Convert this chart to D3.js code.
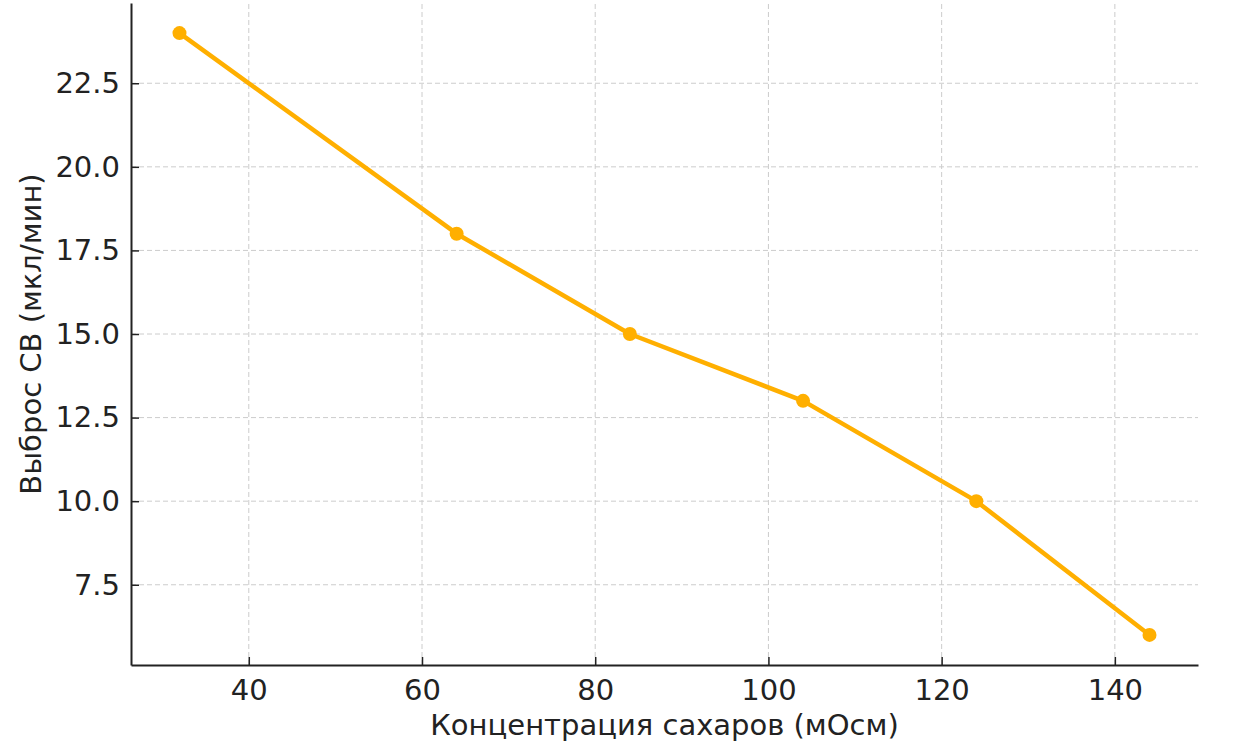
<!DOCTYPE html>
<html>
<head>
<meta charset="utf-8">
<script src="https://cdn.jsdelivr.net/npm/d3@7"></script>
<style>
  body { margin: 0; background: #fff; }
  svg text { font-family: "DejaVu Sans", sans-serif; fill: #222; }
</style>
</head>
<body>
<svg id="grafico"></svg>
<script>
// dados
const concentracao = [32, 64, 84, 104, 124, 144];
const vazao = [24, 18, 15, 13, 10, 6];
const ticksX = [40, 60, 80, 100, 120, 140];
const ticksY = [7.5, 10.0, 12.5, 15.0, 17.5, 20.0, 22.5];

const width = 1254, height = 742;
const margem = { left: 131, right: 56, top: 3, bottom: 77 };

const svg = d3.select("#grafico")
  .attr("width", width)
  .attr("height", height);

// margens de 5% como no matplotlib
const dx = (d3.max(concentracao) - d3.min(concentracao)) * 0.05;
const dy = (d3.max(vazao) - d3.min(vazao)) * 0.05;

const x = d3.scaleLinear()
  .domain([d3.min(concentracao) - dx, d3.max(concentracao) + dx])
  .range([margem.left, width - margem.right]);
const y = d3.scaleLinear()
  .domain([d3.min(vazao) - dy, d3.max(vazao) + dy])
  .range([height - margem.bottom, margem.top]);

// grade tracejada
const grade = svg.append("g");
grade.selectAll("line.gx").data(ticksX).enter().append("line")
  .attr("x1", d => x(d)).attr("x2", d => x(d))
  .attr("y1", y.range()[0]).attr("y2", y.range()[1])
  .attr("stroke", "#cccccc").attr("stroke-width", 1).attr("stroke-dasharray", "5,3");
grade.selectAll("line.gy").data(ticksY).enter().append("line")
  .attr("y1", d => y(d)).attr("y2", d => y(d))
  .attr("x1", x.range()[0]).attr("x2", x.range()[1])
  .attr("stroke", "#cccccc").attr("stroke-width", 1).attr("stroke-dasharray", "5,3");

// eixos com ticks para dentro
const eixoX = svg.append("g")
  .attr("transform", "translate(0," + y.range()[0] + ")")
  .call(d3.axisBottom(x).tickValues(ticksX).tickSizeInner(-8).tickSizeOuter(0).tickPadding(14).tickFormat(d3.format("d")));
const eixoY = svg.append("g")
  .attr("transform", "translate(" + x.range()[0] + ",0)")
  .call(d3.axisLeft(y).tickValues(ticksY).tickSizeInner(-8).tickSizeOuter(0).tickPadding(11).tickFormat(d3.format(".1f")));

[eixoX, eixoY].forEach(function(e){
  e.select(".domain").attr("stroke", "#222").attr("stroke-width", 2);
  e.selectAll(".tick line").attr("stroke", "#222").attr("stroke-width", 1.5);
  e.selectAll(".tick text").style("font-size", "29px").attr("fill", "#222");
});

// linha e marcadores
const pontos = concentracao.map((c, i) => [c, vazao[i]]);
svg.append("path")
  .datum(pontos)
  .attr("fill", "none")
  .attr("stroke", "#FFAF00")
  .attr("stroke-width", 4.5)
  .attr("stroke-linejoin", "round")
  .attr("d", d3.line().x(d => x(d[0])).y(d => y(d[1])));
svg.selectAll("circle").data(pontos).enter().append("circle")
  .attr("cx", d => x(d[0])).attr("cy", d => y(d[1]))
  .attr("r", 7).attr("fill", "#FFAF00");

// rótulos dos eixos
svg.append("text")
  .attr("x", (x.range()[0] + x.range()[1]) / 2)
  .attr("y", 735)
  .attr("text-anchor", "middle")
  .style("font-size", "29px")
  .text("Концентрация сахаров (мОсм)");
svg.append("text")
  .attr("transform", "translate(41," + (y.range()[0] + y.range()[1]) / 2 + ") rotate(-90)")
  .attr("text-anchor", "middle")
  .style("font-size", "29px")
  .text("Выброс СВ (мкл/мин)");
</script>
</body>
</html>
